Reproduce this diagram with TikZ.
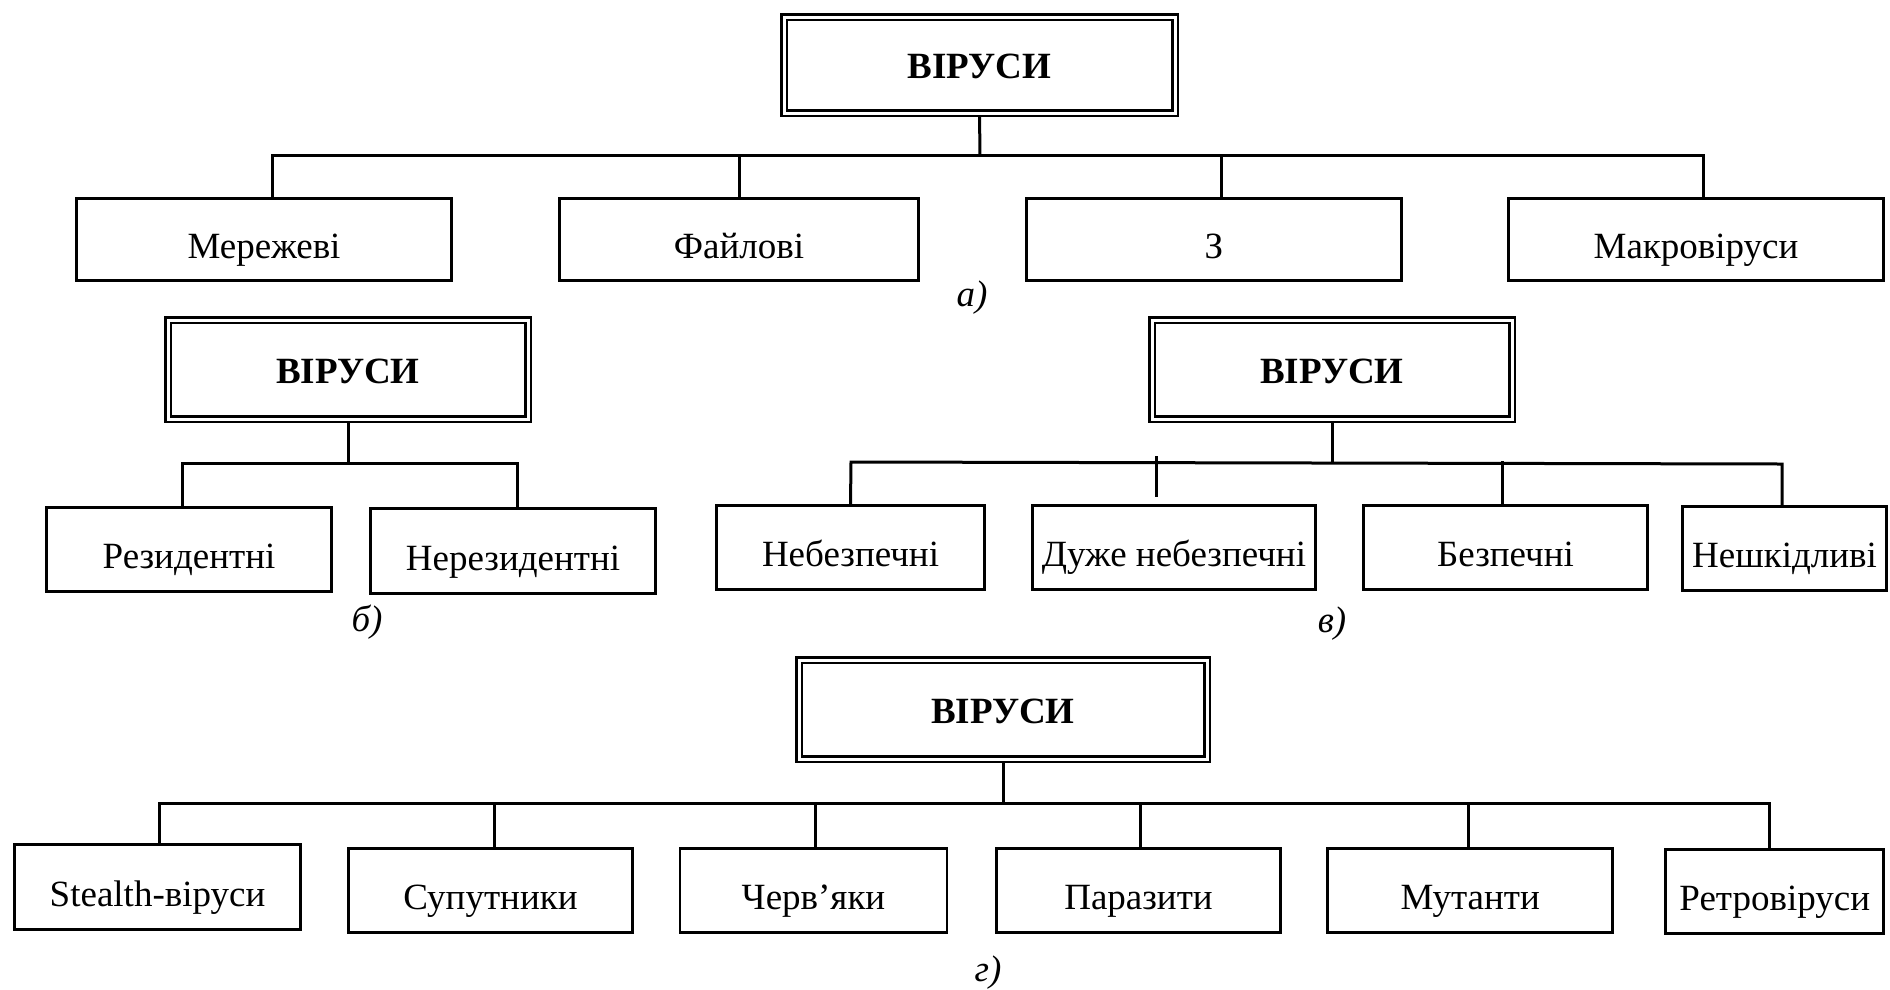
\documentclass[tikz,border=0pt]{standalone}
\usepackage{fontspec}
\setmainfont{Liberation Serif}
\usetikzlibrary{backgrounds}
\begin{document}
\begin{tikzpicture}[x=1pt,y=-1pt,
  box/.style={draw, line width=2.8pt, inner sep=0pt, text height=38pt, text depth=0pt, font=\fontsize{37}{44}\selectfont},
  head/.style={draw, double, line width=2.4pt, double distance=3pt, inner sep=0pt, text height=27pt, text depth=0pt, font=\fontsize{37}{44}\selectfont\bfseries},
  conn/.style={line width=3pt},
  lab/.style={anchor=base, inner sep=0pt, font=\fontsize{37}{44}\selectfont\itshape}]
\useasboundingbox (0,0) rectangle (1890,989);

% ---------- a) ----------
\node[head, minimum width=391pt, minimum height=96pt] (ta) at (979.5,65) {ВІРУСИ};
\node[box, minimum width=375pt, minimum height=82pt] (a1) at (264,239.5) {Мережеві};
\node[box, minimum width=359pt, minimum height=82pt] (a2) at (739,239.5) {Файлові};
\node[box, minimum width=375pt, minimum height=82pt] (a3) at (1214,239.5) {З};
\node[box, minimum width=375pt, minimum height=82pt] (a4) at (1696,239.5) {Макровіруси};
\node[lab] (la) at (972,306) {а)};

% ---------- б) ----------
\node[head, minimum width=360pt, minimum height=99pt] (tb) at (348,369.5) {ВІРУСИ};
\node[box, minimum width=285pt, minimum height=84pt] (b1) at (189,549.5) {Резидентні};
\node[box, minimum width=285pt, minimum height=85pt] (b2) at (513,551) {Нерезидентні};
\node[lab] (lb) at (367,631) {б)};

% ---------- в) ----------
\node[head, minimum width=360pt, minimum height=99pt] (tv) at (1332,369.5) {ВІРУСИ};
\node[box, minimum width=268pt, minimum height=84pt] (v1) at (850.5,547.5) {Небезпечні};
\node[box, minimum width=283pt, minimum height=84pt] (v2) at (1174,547.5) {Дуже небезпечні};
\node[box, minimum width=284pt, minimum height=84pt] (v3) at (1505.5,547.5) {Безпечні};
\node[box, minimum width=204pt, minimum height=84pt] (v4) at (1784.5,548.5) {Нешкідливі};
\node[lab] (lv) at (1332,632) {в)};

% ---------- г) ----------
\node[head, minimum width=408pt, minimum height=99pt] (tg) at (1003,709.5) {ВІРУСИ};
\node[box, minimum width=286pt, minimum height=85pt] (g1) at (157.5,887) {Stealth-віруси};
\node[box, minimum width=284pt, minimum height=84pt] (g2) at (490.5,890.5) {Супутники};
\node[box, minimum width=267pt, minimum height=84pt] (g3) at (813.5,890.5) {Черв’яки};
\node[box, minimum width=284pt, minimum height=84pt] (g4) at (1138.5,890.5) {Паразити};
\node[box, minimum width=285pt, minimum height=84pt] (g5) at (1470.25,890.5) {Мутанти};
\node[box, minimum width=218pt, minimum height=84pt] (g6) at (1774.75,891.5) {Ретровіруси};
\node[lab] (lg) at (988,981) {г)};

\begin{scope}[on background layer]
% a)
\coordinate (ja) at (980,155);
\draw[conn] (ta.south) -- (ja);
\draw[conn] ([xshift=8pt]a1.north) |- (ja);
\draw[conn] ([xshift=7pt]a4.north) |- (ja);
\draw[conn] (a2.north) -- (a2.north |- ja);
\draw[conn] ([xshift=7pt]a3.north) -- ([xshift=7pt]a3.north |- ja);
% б)
\coordinate (jb) at (348,463);
\draw[conn] (tb.south) -- (jb);
\draw[conn] ([xshift=-7pt]b1.north) |- (jb);
\draw[conn] ([xshift=4pt]b2.north) |- (jb);
% в)
\coordinate (bvl) at (851,462);
\coordinate (bvr) at (1782,464);
\coordinate (jv) at (1332,463.5);
\coordinate (sv1) at (1156,456);
\coordinate (sv2) at (1156,497);
\coordinate (sv3) at (1502.5,461);
\draw[conn] (tv.south) -- (jv);
\draw[conn] (v1.north) -- (bvl) -- (bvr) -- (v4.north -| bvr);
\draw[conn] (sv1) -- (sv2);
\draw[conn] (v3.north -| sv3) -- (sv3);
% г)
\coordinate (jg) at (1003,803);
\draw[conn] (tg.south) -- (jg);
\draw[conn] ([xshift=1.5pt]g1.north) |- (jg);
\draw[conn] ([xshift=-5pt]g6.north) |- (jg);
\draw[conn] ([xshift=3.5pt]g2.north) -- ([xshift=3.5pt]g2.north |- jg);
\draw[conn] ([xshift=1.5pt]g3.north) -- ([xshift=1.5pt]g3.north |- jg);
\draw[conn] ([xshift=2pt]g4.north) -- ([xshift=2pt]g4.north |- jg);
\draw[conn] ([xshift=-2pt]g5.north) -- ([xshift=-2pt]g5.north |- jg);
\end{scope}
\end{tikzpicture}
\end{document}
